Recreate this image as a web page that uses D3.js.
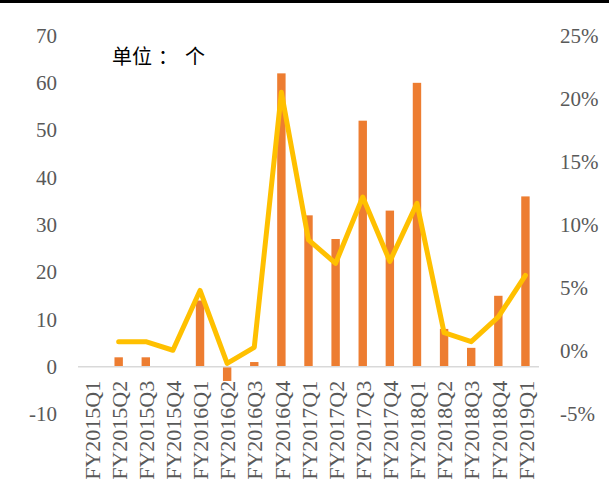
<!DOCTYPE html>
<html>
<head>
<meta charset="utf-8">
<script src="https://cdn.jsdelivr.net/npm/d3@7"></script>
<style>
  html, body { margin: 0; padding: 0; background: #fff; }
  svg { display: block; }
</style>
</head>
<body>
<div id="chart"></div>
<script>
// Quarterly counts (bars, left axis) and growth rate (line, right axis)
const quarters = [
  "FY2015Q1", "FY2015Q2", "FY2015Q3", "FY2015Q4",
  "FY2016Q1", "FY2016Q2", "FY2016Q3", "FY2016Q4",
  "FY2017Q1", "FY2017Q2", "FY2017Q3", "FY2017Q4",
  "FY2018Q1", "FY2018Q2", "FY2018Q3", "FY2018Q4",
  "FY2019Q1"
];
const counts = [0, 2, 2, 0, 14, -3, 1, 62, 32, 27, 52, 33, 60, 8, 4, 15, 36];
const rates = [null, 0.0074, 0.0074, 0.0006, 0.048, -0.0098, 0.0029, 0.205,
  0.088, 0.0695, 0.122, 0.071, 0.117, 0.0145, 0.0074, 0.027, 0.060];
const leftTicks = [-10, 0, 10, 20, 30, 40, 50, 60, 70];
const rightTicks = [-0.05, 0, 0.05, 0.10, 0.15, 0.20, 0.25];
const unitParts = ["单位", "：", "个"];

const W = 609, H = 484;
const textColor = "#595959";
const font = "'Liberation Serif', 'DejaVu Serif', serif";
const fontSize = "21px";

// plain hyphen for negatives
const fmtInt = d => String(Math.round(d));
const fmtPct = d => String(Math.round(d * 100)) + "%";

const svg = d3.select("#chart").append("svg")
  .attr("width", W).attr("height", H);

// top rule
svg.append("rect").attr("x", 0).attr("y", 0).attr("width", W).attr("height", 3).attr("fill", "#000");

const x = d3.scalePoint().domain(quarters).range([78, 539]).padding(0.5);
const step = x.step();
const barW = step * 0.31;

const yL = d3.scaleLinear().domain([-10, 70]).range([414.1, 35.5]);
const yR = d3.scaleLinear().domain([-0.05, 0.25]).range([414.1, 35.5]);

// left axis labels
const leftAxis = d3.axisLeft(yL).tickValues(leftTicks).tickSize(0).tickPadding(0).tickFormat(fmtInt);
const gL = svg.append("g").attr("transform", "translate(57,0)").call(leftAxis);
gL.select(".domain").remove();
gL.selectAll("text").attr("fill", textColor).style("font-family", font).style("font-size", fontSize);

// right axis labels
const rightAxis = d3.axisRight(yR).tickValues(rightTicks).tickSize(0).tickPadding(0).tickFormat(fmtPct);
const gR = svg.append("g").attr("transform", "translate(560,0)").call(rightAxis);
gR.select(".domain").remove();
gR.selectAll("text").attr("fill", textColor).style("font-family", font).style("font-size", fontSize);

// bars
svg.append("g").selectAll("rect")
  .data(quarters.map((q, i) => ({ q, v: counts[i] })))
  .join("rect")
  .attr("x", d => x(d.q) - barW / 2)
  .attr("width", barW)
  .attr("y", d => yL(Math.max(0, d.v)))
  .attr("height", d => Math.abs(yL(d.v) - yL(0)))
  .attr("fill", "#ED7D31");

// category axis
const xAxis = d3.axisBottom(x).tickSize(0).tickPadding(0);
const gX = svg.append("g").attr("transform", `translate(0,${yL(0)})`).call(xAxis);
gX.select(".domain").attr("stroke", "#D9D9D9").attr("stroke-width", 1.5)
  .attr("d", `M78,0H539`);
gX.selectAll("text")
  .attr("fill", textColor)
  .style("font-family", font).style("font-size", "22px")
  .attr("transform", "rotate(-90)")
  .attr("text-anchor", "end")
  .attr("x", -14).attr("y", 0).attr("dy", "0.35em");

// growth line
const line = d3.line()
  .defined(d => d.r !== null)
  .x(d => x(d.q))
  .y(d => yR(d.r));
svg.append("path")
  .datum(quarters.map((q, i) => ({ q, r: rates[i] })))
  .attr("d", line)
  .attr("fill", "none")
  .attr("stroke", "#FFC000")
  .attr("stroke-width", 5)
  .attr("stroke-linejoin", "round")
  .attr("stroke-linecap", "round");

// unit note
const note = svg.append("text")
  .attr("x", 112).attr("y", 64)
  .attr("fill", "#000")
  .style("font-family", "'Noto Sans CJK SC', sans-serif")
  .style("font-size", "20px");
note.append("tspan").text(unitParts[0]);
note.append("tspan").attr("dx", 6).text(unitParts[1]);
note.append("tspan").attr("x", 185).text(unitParts[2]);
</script>
</body>
</html>
